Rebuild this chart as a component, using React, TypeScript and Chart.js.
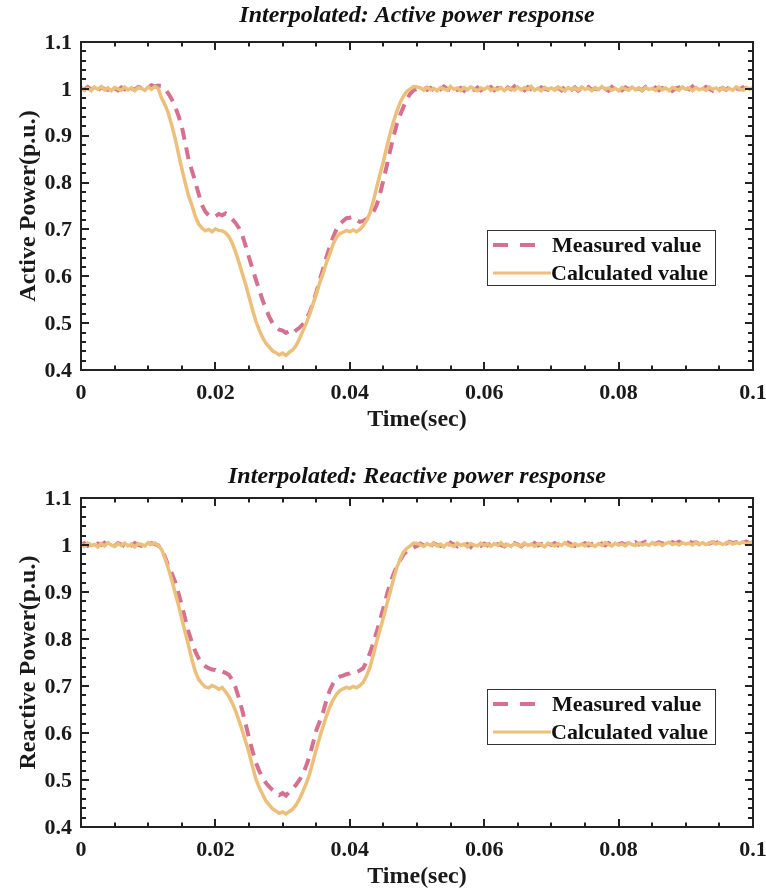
import { useEffect, useRef } from "react";
import { Chart, registerables } from "chart.js";

Chart.register(...registerables);

// Sample times in milliseconds (0.5 ms resolution)
const TIME_MS = [
  0, 0.5, 1, 1.5, 2, 2.5, 3, 3.5, 4, 4.5, 5, 5.5, 6, 6.5, 7, 7.5, 8, 8.5, 9, 9.5,
  10, 10.5, 11, 11.5, 12, 12.5, 13, 13.5, 14, 14.5, 15, 15.5, 16, 16.5, 17, 17.5, 18, 18.5, 19, 19.5,
  20, 20.5, 21, 21.5, 22, 22.5, 23, 23.5, 24, 24.5, 25, 25.5, 26, 26.5, 27, 27.5, 28, 28.5, 29, 29.5,
  30, 30.5, 31, 31.5, 32, 32.5, 33, 33.5, 34, 34.5, 35, 35.5, 36, 36.5, 37, 37.5, 38, 38.5, 39, 39.5,
  40, 40.5, 41, 41.5, 42, 42.5, 43, 43.5, 44, 44.5, 45, 45.5, 46, 46.5, 47, 47.5, 48, 48.5, 49, 49.5,
  50, 50.5, 51, 51.5, 52, 52.5, 53, 53.5, 54, 54.5, 55, 55.5, 56, 56.5, 57, 57.5, 58, 58.5, 59, 59.5,
  60, 60.5, 61, 61.5, 62, 62.5, 63, 63.5, 64, 64.5, 65, 65.5, 66, 66.5, 67, 67.5, 68, 68.5, 69, 69.5,
  70, 70.5, 71, 71.5, 72, 72.5, 73, 73.5, 74, 74.5, 75, 75.5, 76, 76.5, 77, 77.5, 78, 78.5, 79, 79.5,
  80, 80.5, 81, 81.5, 82, 82.5, 83, 83.5, 84, 84.5, 85, 85.5, 86, 86.5, 87, 87.5, 88, 88.5, 89, 89.5,
  90, 90.5, 91, 91.5, 92, 92.5, 93, 93.5, 94, 94.5, 95, 95.5, 96, 96.5, 97, 97.5, 98, 98.5, 99, 99.5,
  100,
];

const ACTIVE_MEASURED = [
  // 0 - 11.5 ms
  1.002, 0.998, 1.004, 0.999, 1.001, 0.997, 1.003, 1.0, 0.998, 1.004, 1.001, 0.997,
  1.003, 0.999, 1.005, 1.0, 0.998, 1.004, 1.002, 1.006, 1.004, 1.008, 1.005, 1.007,
  // 12 - 50 ms
  1.006, 1.0, 0.99, 0.978, 0.962, 0.943, 0.92, 0.885, 0.85, 0.826,
  0.802, 0.776, 0.752, 0.738, 0.73, 0.726, 0.728, 0.733, 0.73, 0.734,
  0.728, 0.722, 0.714, 0.703, 0.688, 0.665, 0.64, 0.617, 0.594, 0.572,
  0.55, 0.531, 0.514, 0.5, 0.492, 0.486, 0.484, 0.479, 0.483, 0.478,
  0.485, 0.49, 0.497, 0.508, 0.522, 0.542, 0.565, 0.59, 0.615, 0.64,
  0.662, 0.683, 0.7, 0.711, 0.718, 0.724, 0.725, 0.727, 0.72, 0.716,
  0.718, 0.722, 0.728, 0.737, 0.752, 0.776, 0.805, 0.836, 0.868, 0.898,
  0.925, 0.945, 0.962, 0.978, 0.99, 0.997, 1.0,
  // 50.5 - 100 ms
  1.001, 1.004, 0.998, 1.002, 0.997, 1.003, 0.999, 1.005, 1.0, 0.997,
  1.003, 0.998, 1.002, 0.996, 1.004, 1.0, 0.998, 1.003, 0.997, 1.001,
  0.999, 1.004, 0.997, 1.002, 1.0, 0.996, 1.003, 0.999, 1.005, 0.998,
  1.002, 0.997, 1.004, 0.999, 1.001, 0.996, 1.003, 1.0, 0.998, 1.004,
  0.999, 1.002, 0.997, 1.005, 1.0, 0.998, 1.003, 0.996, 1.002, 0.999,
  1.004, 0.998, 1.001, 0.997, 1.003, 1.0, 0.996, 1.004, 0.999, 1.002,
  0.997, 1.003, 0.999, 1.005, 0.998, 1.001, 0.997, 1.004, 1.0, 0.998,
  1.003, 0.997, 1.002, 0.999, 1.004, 0.996, 1.001, 1.003, 0.998, 1.002,
  0.999, 1.005, 0.997, 1.001, 0.998, 1.004, 1.0, 0.996, 1.003, 0.999,
  1.002, 0.998, 1.004, 0.997, 1.001, 0.999, 1.003, 0.997, 1.001, 1.004,
];

const ACTIVE_CALCULATED = [
  // 0 - 11.5 ms
  1.003, 0.997, 1.001, 0.996, 1.004, 0.999, 1.005, 0.998, 1.002, 0.996, 1.003, 1.0,
  0.997, 1.004, 0.998, 1.002, 0.996, 1.003, 1.001, 0.997, 1.004, 0.999, 1.005, 1.001,
  // 12 - 50 ms
  0.98, 0.966, 0.948, 0.922, 0.895, 0.862, 0.83, 0.8, 0.772, 0.752,
  0.728, 0.712, 0.703, 0.697, 0.7, 0.695, 0.701, 0.698, 0.697, 0.693,
  0.685, 0.671, 0.652, 0.63, 0.606, 0.583, 0.556, 0.53, 0.505, 0.486,
  0.47, 0.457, 0.449, 0.441, 0.437, 0.432, 0.436, 0.431, 0.438, 0.443,
  0.452, 0.466, 0.483, 0.499, 0.518, 0.54, 0.562, 0.585, 0.605, 0.628,
  0.647, 0.668, 0.683, 0.691, 0.694, 0.698, 0.695, 0.699, 0.695, 0.7,
  0.708, 0.719, 0.735, 0.76, 0.79, 0.818, 0.845, 0.876, 0.905, 0.93,
  0.952, 0.971, 0.985, 0.995, 1.0, 1.005, 1.004,
  // 50.5 - 100 ms
  1.002, 0.997, 1.004, 0.998, 1.001, 0.996, 1.003, 1.0, 0.997, 1.005,
  0.999, 1.002, 0.996, 1.003, 0.998, 1.004, 1.0, 0.996, 1.002, 0.999,
  1.004, 0.997, 1.001, 0.998, 1.003, 0.996, 1.002, 1.0, 0.997, 1.004,
  0.998, 1.003, 0.999, 1.005, 0.997, 1.001, 0.996, 1.003, 0.999, 1.002,
  0.997, 1.004, 1.0, 0.996, 1.003, 0.998, 1.002, 0.997, 1.004, 0.999,
  1.001, 0.996, 1.003, 0.998, 1.005, 0.999, 1.002, 0.997, 1.001, 0.996,
  1.003, 1.0, 0.997, 1.004, 0.998, 1.002, 0.996, 1.003, 0.999, 1.001,
  0.997, 1.004, 0.998, 1.002, 0.996, 1.003, 1.0, 0.997, 1.004, 0.999,
  1.002, 0.996, 1.003, 0.998, 1.001, 0.997, 1.004, 0.999, 1.002, 0.996,
  1.003, 0.998, 1.001, 0.997, 1.004, 1.0, 0.997, 1.003, 0.999, 1.003,
];

const REACTIVE_MEASURED = [
  // 0 - 11.5 ms
  1.0, 1.004, 0.998, 1.002, 0.997, 1.003, 1.0, 1.005, 0.999, 1.002, 0.998, 1.004,
  1.001, 0.997, 1.003, 0.999, 1.004, 1.0, 0.998, 1.003, 1.001, 1.004, 1.002, 0.999,
  // 12 - 50 ms
  0.99, 0.975, 0.955, 0.94, 0.922, 0.898, 0.871, 0.843, 0.815, 0.793,
  0.774, 0.759, 0.748, 0.742, 0.738, 0.735, 0.734, 0.729, 0.731, 0.728,
  0.724, 0.713, 0.697, 0.674, 0.648, 0.619, 0.59, 0.563, 0.538, 0.52,
  0.505, 0.494, 0.486, 0.479, 0.474, 0.468, 0.472, 0.467, 0.475, 0.481,
  0.49, 0.5, 0.512, 0.53, 0.55, 0.577, 0.605, 0.624, 0.643, 0.668,
  0.69, 0.705, 0.716, 0.72, 0.722, 0.725, 0.727, 0.731, 0.73, 0.733,
  0.738, 0.752, 0.77, 0.792, 0.815, 0.84, 0.866, 0.893, 0.918, 0.938,
  0.955, 0.968, 0.98, 0.987, 0.992, 0.995, 0.998,
  // 50.5 - 100 ms
  1.003, 0.999, 1.002, 0.997, 1.004, 1.0, 0.998, 1.003, 0.999, 1.005,
  1.001, 0.997, 1.003, 0.999, 1.002, 0.996, 1.004, 1.0, 0.998, 1.003,
  0.999, 1.004, 0.998, 1.002, 1.0, 0.997, 1.003, 0.999, 1.004, 1.001,
  0.997, 1.003, 1.0, 0.998, 1.004, 0.999, 1.002, 0.997, 1.003, 1.0,
  1.004, 0.999, 1.002, 0.998, 1.005, 1.001, 0.998, 1.003, 1.0, 1.004,
  0.999, 1.002, 1.005, 1.0, 1.003, 0.999, 1.004, 1.001, 1.006, 1.002,
  1.004, 1.0, 1.005, 1.002, 1.006, 1.001, 1.004, 1.007, 1.003, 1.005,
  1.002, 1.006, 1.003, 1.005, 1.001, 1.006, 1.004, 1.007, 1.003, 1.005,
  1.008, 1.004, 1.006, 1.002, 1.007, 1.005, 1.003, 1.006, 1.004, 1.008,
  1.005, 1.003, 1.007, 1.004, 1.006, 1.002, 1.005, 1.007, 1.004, 1.006,
];

const REACTIVE_CALCULATED = [
  // 0 - 11.5 ms
  1.002, 0.997, 1.004, 0.999, 1.001, 0.996, 1.003, 0.998, 1.005, 1.0, 0.997, 1.003,
  0.999, 1.004, 0.998, 1.002, 0.996, 1.003, 1.001, 0.998, 1.005, 1.002, 1.004, 0.999,
  // 12 - 50 ms
  0.99, 0.972, 0.95, 0.926, 0.899, 0.872, 0.843, 0.814, 0.786, 0.757,
  0.731, 0.714, 0.705, 0.698, 0.696, 0.701, 0.698, 0.693, 0.697, 0.688,
  0.678, 0.664, 0.647, 0.627, 0.605, 0.582, 0.558, 0.53, 0.503, 0.485,
  0.47, 0.456, 0.447, 0.439, 0.434, 0.429, 0.432, 0.428, 0.433, 0.438,
  0.447, 0.459, 0.475, 0.492, 0.512, 0.538, 0.565, 0.59, 0.613, 0.635,
  0.655, 0.67, 0.682, 0.69, 0.694, 0.697, 0.695, 0.699, 0.696, 0.701,
  0.708, 0.722, 0.74, 0.766, 0.795, 0.82, 0.845, 0.873, 0.9, 0.927,
  0.952, 0.97, 0.985, 0.993, 0.998, 1.004, 1.003,
  // 50.5 - 100 ms
  1.001, 0.997, 1.003, 0.999, 1.004, 0.998, 1.002, 0.996, 1.003, 1.0,
  0.997, 1.004, 0.999, 1.002, 0.996, 1.003, 1.0, 0.998, 1.004, 0.999,
  1.002, 0.997, 1.003, 0.999, 1.005, 0.998, 1.001, 0.997, 1.003, 1.0,
  0.998, 1.004, 0.999, 1.002, 0.997, 1.003, 1.0, 0.996, 1.004, 1.001,
  0.998, 1.003, 0.999, 1.005, 1.0, 0.997, 1.003, 0.999, 1.002, 0.998,
  1.004, 1.0, 0.997, 1.003, 0.999, 1.005, 1.001, 0.998, 1.004, 1.0,
  1.002, 0.998, 1.005, 1.001, 0.999, 1.004, 1.0, 1.003, 0.999, 1.005,
  1.001, 1.004, 0.999, 1.003, 1.006, 1.001, 1.004, 1.0, 1.005, 1.002,
  1.004, 1.0, 1.006, 1.002, 1.005, 1.001, 1.004, 1.007, 1.002, 1.005,
  1.001, 1.004, 1.006, 1.002, 1.005, 1.003, 1.007, 1.002, 1.005, 1.004,
];

const X_TICKS = [0, 0.02, 0.04, 0.06, 0.08, 0.1];
const X_TICK_LABELS = ["0", "0.02", "0.04", "0.06", "0.08", "0.1"];
const Y_TICKS = [0.4, 0.5, 0.6, 0.7, 0.8, 0.9, 1.0, 1.1];
const Y_TICK_LABELS = ["0.4", "0.5", "0.6", "0.7", "0.8", "0.9", "1", "1.1"];
const X_MINOR_STEP = 0.005;
const Y_MINOR_STEP = 0.02;

const LEGEND_LABELS = ["Measured value", "Calculated value"];
const PINK = "#d5718f";
const ORANGE = "#ecbf7b";
const AXIS = "#222222";
const FONT = "'Liberation Serif', 'Times New Roman', serif";

const framePlugin = {
  id: "frame",
  afterDatasetsDraw(chart: any, _args: any, opts: any) {
    const { ctx, chartArea } = chart;
    const { left, right, top, bottom } = chartArea;
    const xs = chart.scales.x;
    const ys = chart.scales.y;
    ctx.save();
    ctx.strokeStyle = AXIS;
    ctx.fillStyle = AXIS;
    ctx.lineWidth = 2;
    ctx.setLineDash([]);

    const nx = Math.round((xs.max - xs.min) / X_MINOR_STEP);
    for (let i = 0; i <= nx; i++) {
      const v = xs.min + i * X_MINOR_STEP;
      const px = Math.round(xs.getPixelForValue(v));
      const len = i % 4 === 0 ? 8 : 4.5;
      ctx.beginPath();
      ctx.moveTo(px, bottom);
      ctx.lineTo(px, bottom - len);
      ctx.moveTo(px, top);
      ctx.lineTo(px, top + len);
      ctx.stroke();
    }
    const ny = Math.round((ys.max - ys.min) / Y_MINOR_STEP);
    for (let i = 0; i <= ny; i++) {
      const v = ys.min + i * Y_MINOR_STEP;
      const py = Math.round(ys.getPixelForValue(v));
      const len = i % 5 === 0 ? 8 : 5;
      ctx.beginPath();
      ctx.moveTo(left, py);
      ctx.lineTo(left + len, py);
      ctx.moveTo(right, py);
      ctx.lineTo(right - len, py);
      ctx.stroke();
    }
    ctx.strokeRect(left, top, right - left, bottom - top);

    // tick labels
    ctx.fillStyle = "#1a1a1a";
    ctx.font = `bold 22px ${FONT}`;
    ctx.textBaseline = "middle";
    ctx.textAlign = "center";
    X_TICKS.forEach((v, i) => {
      ctx.fillText(X_TICK_LABELS[i], xs.getPixelForValue(v), bottom + 23);
    });
    ctx.textAlign = "right";
    Y_TICKS.forEach((v, i) => {
      ctx.fillText(Y_TICK_LABELS[i], left - 9, ys.getPixelForValue(v) + 1);
    });

    // axis titles
    ctx.font = `bold 24px ${FONT}`;
    ctx.textAlign = "center";
    ctx.fillText(opts.xTitle, (left + right) / 2, bottom + 50);
    ctx.save();
    ctx.translate(29, (top + bottom) / 2);
    ctx.rotate(-Math.PI / 2);
    ctx.fillText(opts.yTitle, 0, 0);
    ctx.restore();

    // chart title
    ctx.font = `italic bold 24px ${FONT}`;
    ctx.fillStyle = "#111111";
    ctx.fillText(opts.title, (left + right) / 2, opts.titleY);

    // legend
    const bx = 487;
    const bw = 228;
    const by = top + opts.legendOffset;
    const bh = 55;
    ctx.fillStyle = "#ffffff";
    ctx.fillRect(bx, by, bw, bh);
    ctx.lineWidth = 1;
    ctx.strokeStyle = "#333333";
    ctx.strokeRect(bx + 0.5, by + 0.5, bw, bh);
    const rows = [by + 15, by + 43];
    ctx.lineWidth = 4;
    ctx.strokeStyle = PINK;
    ctx.setLineDash([15, 12]);
    ctx.beginPath();
    ctx.moveTo(493, rows[0]);
    ctx.lineTo(547, rows[0]);
    ctx.stroke();
    ctx.setLineDash([]);
    ctx.lineWidth = 3;
    ctx.strokeStyle = ORANGE;
    ctx.beginPath();
    ctx.moveTo(493, rows[1]);
    ctx.lineTo(551, rows[1]);
    ctx.stroke();
    ctx.fillStyle = "#111111";
    ctx.font = `bold 22px ${FONT}`;
    ctx.textAlign = "left";
    ctx.fillText(LEGEND_LABELS[0], 552, rows[0] + 1);
    ctx.fillText(LEGEND_LABELS[1], 551, rows[1] + 1);

    ctx.restore();
  },
};

type PanelProps = {
  measured: number[];
  calculated: number[];
  title: string;
  yTitle: string;
  padTop: number;
  padBottom: number;
  titleY: number;
  legendOffset: number;
  height: number;
};

function Panel(props: PanelProps) {
  const ref = useRef<HTMLCanvasElement | null>(null);
  useEffect(() => {
    if (!ref.current) return;
    const toPts = (arr: number[]) =>
      TIME_MS.slice(0, arr.length).map((t, i) => ({ x: t / 1000, y: arr[i] }));
    const chart = new Chart(ref.current, {
      type: "line",
      data: {
        datasets: [
          {
            label: LEGEND_LABELS[1],
            data: toPts(props.calculated),
            borderColor: ORANGE,
            borderWidth: 3.5,
            pointRadius: 0,
            tension: 0,
            fill: false,
            order: 0,
          },
          {
            label: LEGEND_LABELS[0],
            data: toPts(props.measured),
            borderColor: PINK,
            borderWidth: 4,
            borderDash: [12, 8],
            pointRadius: 0,
            tension: 0,
            fill: false,
            order: 1,
          },
        ],
      },
      options: {
        responsive: false,
        animation: false,
        events: [],
        layout: { padding: { left: 81, right: 13, top: props.padTop, bottom: props.padBottom } },
        scales: {
          x: { type: "linear", min: 0, max: 0.1, display: false },
          y: { type: "linear", min: 0.4, max: 1.1, display: false },
        },
        plugins: {
          legend: { display: false },
          tooltip: { enabled: false },
          title: { display: false },
          frame: {
            title: props.title,
            xTitle: "Time(sec)",
            yTitle: props.yTitle,
            titleY: props.titleY,
            legendOffset: props.legendOffset,
          },
        } as any,
      },
      plugins: [framePlugin],
    } as any);
    return () => chart.destroy();
  }, []);
  return (
    <canvas
      ref={ref}
      width={766}
      height={props.height}
      style={{ display: "block", width: 766, height: props.height }}
    />
  );
}

export default function App() {
  return (
    <div style={{ position: "absolute", left: 0, top: 0, width: 766, height: 890, background: "#fff" }}>
      <Panel
        measured={ACTIVE_MEASURED}
        calculated={ACTIVE_CALCULATED}
        title="Interpolated: Active power response"
        yTitle="Active Power(p.u.)"
        padTop={42}
        padBottom={75}
        titleY={16}
        legendOffset={188}
        height={445}
      />
      <Panel
        measured={REACTIVE_MEASURED}
        calculated={REACTIVE_CALCULATED}
        title="Interpolated: Reactive power response"
        yTitle="Reactive Power(p.u.)"
        padTop={53}
        padBottom={63}
        titleY={32}
        legendOffset={191}
        height={445}
      />
    </div>
  );
}
